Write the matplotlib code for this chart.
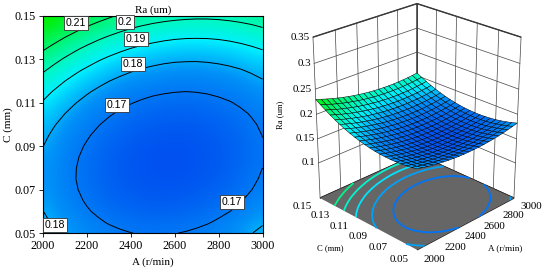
import numpy as np
import matplotlib
matplotlib.use("Agg")
import matplotlib.pyplot as plt
from matplotlib.colors import LinearSegmentedColormap, Normalize
from mpl_toolkits.mplot3d import proj3d

plt.rcParams['font.family'] = ['Liberation Serif']

# values, Ra x 10000, one row per C value
RA_TABLE = [
    [1838,1811,1787,1766,1748,1732,1719,1709,1701,1696,1694,1695,1698,1704,1713,1724,1738,1755,1775,1797,1822],
    [1817,1790,1765,1744,1725,1709,1695,1684,1676,1671,1668,1668,1671,1676,1684,1695,1709,1725,1744,1766,1790],
    [1801,1773,1748,1726,1706,1690,1676,1664,1656,1650,1646,1646,1648,1653,1660,1671,1684,1699,1718,1739,1763],
    [1789,1761,1736,1713,1693,1675,1661,1649,1640,1633,1629,1628,1630,1634,1641,1651,1663,1678,1696,1717,1740],
    [1782,1754,1728,1704,1684,1666,1650,1638,1628,1621,1617,1615,1616,1620,1626,1636,1647,1662,1679,1699,1722],
    [1780,1751,1724,1700,1679,1661,1645,1632,1621,1614,1609,1607,1607,1610,1616,1625,1636,1650,1667,1686,1709],
    [1782,1752,1725,1701,1679,1660,1644,1630,1619,1611,1606,1603,1603,1605,1611,1619,1630,1643,1659,1678,1700],
    [1789,1759,1731,1706,1684,1664,1647,1633,1622,1613,1607,1603,1603,1605,1610,1617,1627,1640,1656,1674,1695],
    [1801,1770,1741,1716,1693,1673,1655,1641,1629,1619,1613,1609,1608,1609,1613,1620,1630,1642,1657,1675,1696],
    [1817,1785,1756,1730,1707,1686,1668,1653,1640,1630,1623,1619,1617,1618,1622,1628,1637,1649,1663,1681,1701],
    [1838,1805,1776,1749,1725,1704,1685,1670,1656,1646,1638,1633,1631,1631,1635,1640,1649,1660,1674,1691,1710],
    [1863,1830,1800,1773,1748,1727,1707,1691,1677,1666,1658,1652,1650,1649,1652,1657,1665,1676,1689,1705,1724],
    [1893,1859,1829,1801,1776,1754,1734,1717,1703,1691,1682,1676,1673,1672,1674,1679,1686,1696,1709,1725,1743],
    [1927,1893,1862,1834,1808,1785,1765,1748,1733,1721,1711,1705,1701,1699,1701,1705,1712,1721,1734,1749,1766],
    [1966,1932,1900,1871,1845,1822,1801,1783,1767,1755,1745,1737,1733,1731,1732,1736,1742,1751,1763,1777,1794],
    [2010,1975,1943,1913,1887,1863,1841,1823,1807,1793,1783,1775,1770,1767,1768,1771,1777,1785,1796,1810,1827],
    [2058,2023,1990,1960,1933,1908,1886,1867,1850,1837,1826,1817,1811,1809,1808,1811,1816,1824,1834,1848,1864],
    [2111,2075,2042,2011,1983,1958,1936,1916,1899,1884,1873,1864,1858,1854,1853,1855,1860,1867,1877,1890,1905],
    [2169,2132,2098,2067,2039,2013,1990,1969,1952,1937,1925,1915,1908,1904,1903,1904,1908,1915,1925,1937,1952],
    [2231,2194,2159,2127,2098,2072,2049,2028,2009,1994,1981,1971,1964,1959,1957,1958,1962,1968,1977,1988,2003],
    [2298,2260,2225,2192,2163,2136,2112,2090,2072,2056,2042,2032,2024,2019,2016,2016,2019,2025,2033,2044,2058],
]
a_vals = np.arange(2000, 3001, 50)
c_vals = np.arange(0, 21) * 0.005 + 0.05
ra = np.array(RA_TABLE) / 10000

levels = [0.17, 0.18, 0.19, 0.20, 0.21]
a_ticks = [2000, 2200, 2400, 2600, 2800, 3000]
c_ticks = [0.05, 0.07, 0.09, 0.11, 0.13, 0.15]
z_ticks = [0.1, 0.15, 0.2, 0.25, 0.3, 0.35]
z_labels = ['0.1', '0.15', '0.2', '0.25', '0.3', '0.35']
line_labels = [('0.21', 2150, 0.1466), ('0.2', 2374, 0.1474), ('0.19', 2425, 0.1393),
               ('0.18', 2411, 0.1279), ('0.17', 2336, 0.1090), ('0.17', 2862, 0.0643),
               ('0.18', 2055, 0.0538)]

cmap = LinearSegmentedColormap.from_list("de", [(0, "#0050f0"), (.25, "#0090f8"), (.45, "#00f0ff"),
                                                (.6, "#00f8c0"), (1, "#00f000")])
norm = Normalize(.16, .23)

fig = plt.figure(figsize=(5.5, 2.71), dpi=100)

# right: surface
ax3 = fig.add_axes([271/550, 17/271, 285/550, 260/271], projection='3d', proj_type='persp', focal_length=0.75)
ax3.patch.set_alpha(0)
ax3.computed_zorder = False
ax3.view_init(elev=25, azim=-135)
ax3.set_box_aspect((1, 1, 1.25), zoom=1.0)
z_floor = 0.025
ax3.set_xlim(2000, 3000)
ax3.set_ylim(.05, .15)
ax3.set_zlim(z_floor, .35)
ax3.set_xticks([])
ax3.set_yticks([])
ax3.set_zticks([])
for axis in (ax3.xaxis, ax3.yaxis, ax3.zaxis):
    axis.set_pane_color((1, 1, 1, 1))
    axis.pane.set_edgecolor('#222222')
    axis.line.set_color('none')

# wall grid
grid_kw = dict(color='#444444', lw=.5, zorder=.5)
for a in a_ticks:
    ax3.plot([a, a], [.15, .15], [z_floor, .35], **grid_kw)
for c in c_ticks:
    ax3.plot([3000, 3000], [c, c], [z_floor, .35], **grid_kw)
for z in z_ticks:
    ax3.plot([2000, 3000], [.15, .15], [z, z], **grid_kw)
    ax3.plot([3000, 3000], [.05, .15], [z, z], **grid_kw)

A, C = np.meshgrid(a_vals, c_vals)
floor_a, floor_c = np.meshgrid([2000, 3000], [.05, .15])
ax3.plot_surface(floor_a, floor_c, np.full((2, 2), z_floor), color='#666666', shade=False, zorder=1)
ax3.contour(A, C, ra, levels=levels, zdir='z', offset=z_floor, cmap=cmap, norm=norm, linewidths=1.3, zorder=2)
ax3.plot_surface(A, C, ra, cmap=cmap, norm=norm, edgecolor='k', linewidth=.35, rstride=1, cstride=1, shade=False, zorder=3)


def label3d(x, y, z, txt, **kw):
    # project by hand so the text sits at its real place in the 2d axes
    px, py, _ = proj3d.proj_transform(x, y, z, ax3.get_proj())
    ax3.text2D(px, py, txt, transform=ax3.transData, fontsize=7.9, va='center', **kw)


for a in a_ticks:
    label3d(a, .05 - .0165, z_floor, str(a), ha='center')
for c in c_ticks:
    label3d(2000 - 165, c, z_floor, '%.2f' % c, ha='center')
for z, lab in zip(z_ticks, z_labels):
    label3d(1985, .1515, z, lab, ha='right')
fig.text(505/550, 1-248/271, "A (r/min)", fontsize=6.6, ha='center', va='center')
fig.text(330/550, 1-248/271, "C (mm)", fontsize=6.2, ha='center', va='center')
fig.text(280/550, 1-115/271, "Ra (um)", fontsize=6.2, ha='center', va='center', rotation=90)

# left: contour map
ax = fig.add_axes([43/550, 1-233/271, 219.5/550, 217/271])
ax.imshow(ra, origin='lower', extent=[2000, 3000, .05, .15], aspect='auto', cmap=cmap, norm=norm, interpolation='bicubic')
ax.contour(a_vals, c_vals, ra, levels=levels, colors='k', linewidths=.7)
for txt, a, c in line_labels:
    ax.text(a, c, txt, family='Liberation Sans', fontsize=7.6, ha='center', va='center',
            bbox=dict(boxstyle='square,pad=0.18', fc='white', ec='#333333', lw=.6))
ax.set_xticks(a_ticks)
ax.set_yticks(c_ticks)
ax.set_yticklabels(['%.2f' % c for c in c_ticks])
ax.tick_params(labelsize=8.7, length=3, width=.6, pad=2)
ax.set_xlabel("A (r/min)", fontsize=8, labelpad=4)
ax.set_ylabel("C (mm)", fontsize=8, labelpad=1)
ax.set_title("Ra (um)", fontsize=8, pad=2)

fig.savefig("out.png", dpi=100)
